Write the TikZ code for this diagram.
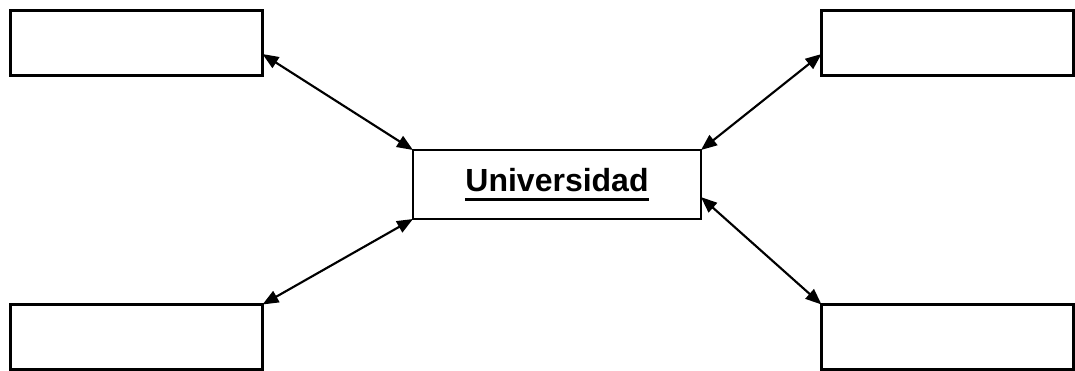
\documentclass[tikz,border=0pt]{standalone}
\usepackage{fontspec}
\setmainfont{Liberation Sans}
\usetikzlibrary{arrows.meta}
\newcommand{\ulbold}[1]{\leavevmode\vtop{\hbox{#1}\kern4.2pt\hrule height 2.2pt}}
\tikzset{
	box/.style={draw, line width=1.7pt, inner sep=0pt, outer sep=0pt, minimum width=189pt, minimum height=48.75pt},
	hub/.style={box, minimum width=216pt, minimum height=51.75pt, font=\bfseries\fontsize{24}{28}\selectfont},
	link/.style={line width=1.6pt, {Triangle[length=12pt,width=9.5pt]}-{Triangle[length=12pt,width=9.5pt]}}
}

\begin{document}
\begin{tikzpicture}[x=0.75pt, y=-0.75pt]
		%%%%% START %%%%%
		
		\useasboundingbox (0, 0) rectangle (1075, 371);
		
		\node[hub] (uni) at (557, 184.5) {\ulbold{Universidad}};
		
		\node[box] (tl) at (136.5, 43) {};
		\node[box] (tr) at (947.5, 43) {};
		\node[box] (bl) at (136.5, 337) {};
		\node[box] (br) at (947.5, 337) {};
		
		\draw[link] (tl.-5) -- (uni.north west);
		\draw[link] (tr.185) -- (uni.north east);
		\draw[link] (bl.north east) -- (uni.south west);
		\draw[link] (br.north west) -- (uni.-5);
		
		%%%%% END %%%%%
	\end{tikzpicture}
\end{document}
